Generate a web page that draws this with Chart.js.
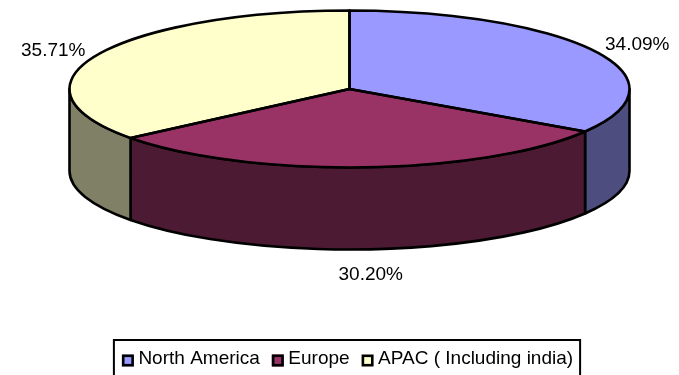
<!DOCTYPE html>
<html>
<head>
<meta charset="utf-8">
<style>
  html, body { margin: 0; padding: 0; background: #fff; }
  #wrap { width: 679px; height: 375px; }
</style>
<script src="https://cdn.jsdelivr.net/npm/chart.js@4"></script>
</head>
<body>
<div id="wrap"><canvas id="graficoPie"></canvas></div>
<script>
const regiones = ["North America", "Europe", "APAC ( Including india)"];
const porcentajes = [34.09, 30.20, 35.71];
const coloresCara = ["#9999FF", "#993366", "#FFFFCC"];
const coloresLado = ["#4D4D80", "#4D1A33", "#808066"];

// tilted disc: ellipse centre, radii and wall height
const disco = { cx: 349.5, cy: 89, rx: 280, ry: 78.5, alto: 82 };
// where each percentage sits relative to its slice's rim point
const desplazaEtiqueta = [[42, -7], [7, 107.5], [-44, -4]];

const fuente = "'Liberation Sans', Arial, sans-serif";
const grosor = 2.6;
const ladoMuestra = 12;

function trazarBorde(ctx, inicio, fin) {
  ctx.beginPath();
  ctx.moveTo(disco.cx, disco.cy);
  ctx.ellipse(disco.cx, disco.cy, disco.rx, disco.ry, 0, inicio, fin);
  ctx.closePath();
  ctx.stroke();
}

const pie3d = {
  id: "pie3d",

  // walls go below the slices, only the part of each arc facing the viewer
  beforeDatasetsDraw(chart) {
    const ctx = chart.ctx;
    const arcos = chart.getDatasetMeta(0).data;

    ctx.save();
    ctx.lineWidth = grosor;
    ctx.strokeStyle = "#000";
    ctx.lineJoin = "round";
    arcos.forEach((arco, i) => {
      const ini = Math.max(arco.startAngle, 0);
      const fin = Math.min(arco.endAngle, Math.PI);
      if (fin <= ini) return;
      ctx.beginPath();
      ctx.ellipse(disco.cx, disco.cy, disco.rx, disco.ry, 0, ini, fin);
      ctx.ellipse(disco.cx, disco.cy + disco.alto, disco.rx, disco.ry, 0, fin, ini, true);
      ctx.closePath();
      ctx.fillStyle = coloresLado[i];
      ctx.fill();
      ctx.stroke();
    });
    ctx.restore();

    // squash the library's round pie into the disc's top face
    const arco = arcos[0];
    ctx.save();
    ctx.translate(disco.cx, disco.cy);
    ctx.scale(1, disco.ry / disco.rx);
    ctx.translate(-arco.x, -arco.y);
  },

  afterDatasetsDraw(chart) {
    const ctx = chart.ctx;
    ctx.restore();

    const arcos = chart.getDatasetMeta(0).data;
    ctx.save();
    ctx.lineWidth = grosor;
    ctx.strokeStyle = "#000";
    ctx.lineJoin = "round";
    arcos.forEach((arco) => trazarBorde(ctx, arco.startAngle, arco.endAngle));

    ctx.fillStyle = "#000";
    ctx.font = "19px " + fuente;
    ctx.textAlign = "center";
    ctx.textBaseline = "middle";
    arcos.forEach((arco, i) => {
      const medio = (arco.startAngle + arco.endAngle) / 2;
      const x = disco.cx + disco.rx * Math.cos(medio) + desplazaEtiqueta[i][0];
      const y = disco.cy + disco.ry * Math.sin(medio) + desplazaEtiqueta[i][1];
      ctx.fillText(porcentajes[i].toFixed(2) + "%", x, y);
    });
    ctx.restore();
  },

  // frame round the legend, plus the swatches: the library leaves too wide a
  // gap between its own boxes and the text
  afterDraw(chart) {
    const cajas = chart.legend.legendHitBoxes;
    const izq = Math.min(...cajas.map((c) => c.left));
    const der = Math.max(...cajas.map((c) => c.left + c.width));
    const ctx = chart.ctx;
    ctx.save();
    ctx.lineWidth = 2;
    ctx.strokeStyle = "#000";
    ctx.strokeRect(izq - 8, cajas[0].top - 9, der - izq + 15, cajas[0].height + 24);

    ctx.lineWidth = grosor;
    cajas.forEach((c, i) => {
      const y = c.top + (c.height - ladoMuestra) / 2 + 2;
      ctx.fillStyle = coloresCara[i];
      ctx.fillRect(c.left, y, ladoMuestra, ladoMuestra);
      ctx.strokeRect(c.left + grosor / 2, y + grosor / 2, ladoMuestra - grosor, ladoMuestra - grosor);
    });
    ctx.restore();
  },
};

const grafico = new Chart(document.getElementById("graficoPie"), {
  type: "pie",
  plugins: [pie3d],
  data: {
    labels: regiones,
    datasets: [
      {
        data: porcentajes,
        backgroundColor: coloresCara,
        borderWidth: 0,
        clip: false,
      },
    ],
  },
  options: {
    responsive: true,
    maintainAspectRatio: false,
    animation: false,
    radius: disco.rx,
    layout: {
      padding: { left: 16, bottom: -3 },
    },
    plugins: {
      tooltip: { enabled: false },
      legend: {
        position: "bottom",
        labels: {
          font: { family: fuente, size: 19 },
          color: "#000",
          boxWidth: 7,
          boxHeight: 12,
          padding: 12,
          generateLabels(chart) {
            return regiones.map((texto, i) => ({
              text: texto,
              fillStyle: "transparent",
              strokeStyle: "transparent",
              lineWidth: 0,
              index: i,
            }));
          },
        },
      },
    },
  },
});
</script>
</body>
</html>
